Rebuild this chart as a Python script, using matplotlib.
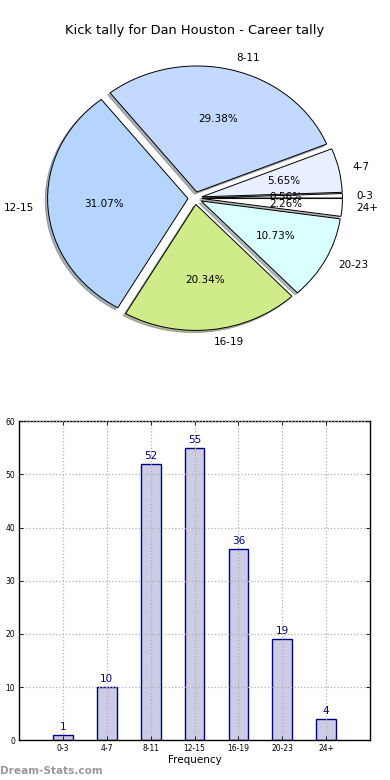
import numpy as np
import matplotlib
matplotlib.use('Agg')
import matplotlib.pyplot as plt

# Kick tally data
categories = ['0-3', '4-7', '8-11', '12-15', '16-19', '20-23', '24+']
counts = [1, 10, 52, 55, 36, 19, 4]
pie_colors = ['#ffffff', '#e8f0ff', '#c4d9ff', '#b5d5ff', '#d0eb8a', '#d9ffff', '#ffffff']
explode = [0.05] * 7

fig = plt.figure(figsize=(3.9, 7.8), dpi=100)

# Pie chart
ax1 = fig.add_axes([0.05, 0.544, 0.9, 0.404])
wedges, texts, autotexts = ax1.pie(counts, labels=categories, colors=pie_colors,
                                   explode=explode, autopct='%1.2f%%',
                                   shadow={'ox': -0.012, 'oy': -0.012, 'shade': 0.55},
                                   startangle=0, labeldistance=1.1, pctdistance=0.6,
                                   wedgeprops={'edgecolor': 'black', 'linewidth': 0.7},
                                   textprops={'fontsize': 7.5})
ax1.set_aspect('auto')
ax1.set_xlim(-1.25, 1.25)
ax1.set_ylim(-1.25, 1.25)
ax1.axis('off')
fig.text(0.5, 0.961, 'Kick tally for Dan Houston - Career tally', ha='center', va='center', fontsize=9.4)

# Bar chart
ax2 = fig.add_axes([0.049, 0.051, 0.9, 0.409])
x = np.arange(len(categories))
bars = ax2.bar(x, counts, width=0.45, color='#cccce4', edgecolor='navy', linewidth=1)
for xi, c in zip(x, counts):
    ax2.text(xi, c + 0.6, str(c), ha='center', va='bottom', color='navy', fontsize=7.5)
ax2.set_xlim(-1, 7)
ax2.set_ylim(0, 60)
ax2.set_xticks(x)
ax2.set_xticklabels(categories, fontsize=5.5)
ax2.set_yticks(range(0, 61, 10))
ax2.tick_params(axis='y', labelsize=5.5)
ax2.tick_params(direction='in', top=True, right=True, length=3, width=0.6, pad=3)
ax2.set_xlabel('Frequency', fontsize=7.5, labelpad=1)
ax2.grid(True, linestyle=':', color='#b0b0b0', linewidth=0.9)
ax2.set_axisbelow(False)
for s in ax2.spines.values():
    s.set_linewidth(1)

fig.text(0.0, 0.011, 'Dream-Stats.com', fontsize=7.6, color='#999999', fontweight='bold', ha='left', va='center')

fig.savefig('out.png', dpi=100)
